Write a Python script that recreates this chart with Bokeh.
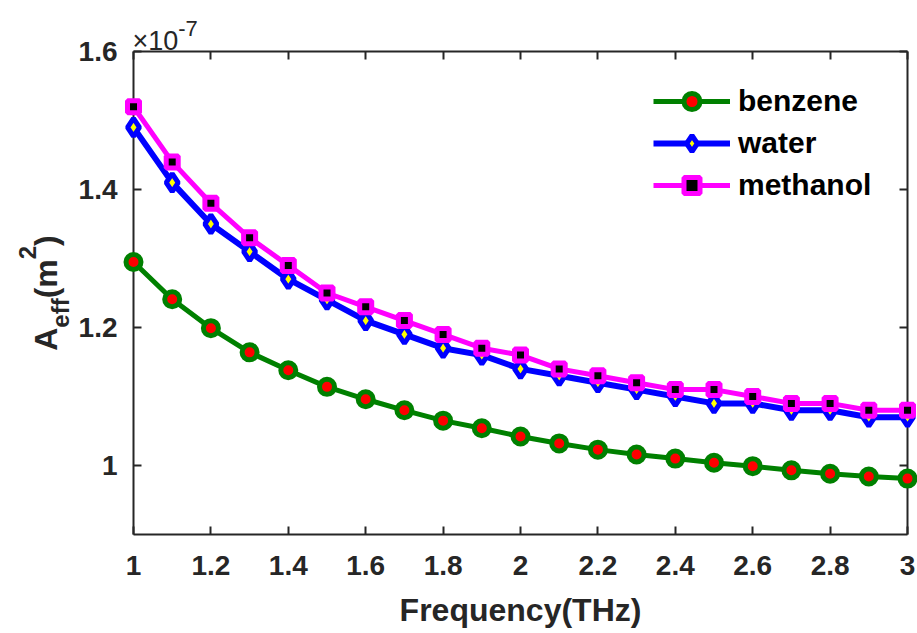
import math
from bokeh.plotting import figure
from bokeh.models import (Range1d, FixedTicker, LinearAxis, Legend, LegendItem, Label,
                          CustomJSTickFormatter)
from bokeh.embed import file_html
from bokeh.resources import INLINE

# ---------------- data (A_eff in units of 1e-7 m^2) ----------------
FREQ = [1.0, 1.1, 1.2, 1.3, 1.4, 1.5, 1.6, 1.7, 1.8, 1.9, 2.0,
        2.1, 2.2, 2.3, 2.4, 2.5, 2.6, 2.7, 2.8, 2.9, 3.0]
BENZENE = [1.295, 1.241, 1.199, 1.164, 1.138, 1.114, 1.096, 1.080, 1.065, 1.054, 1.042,
           1.032, 1.023, 1.016, 1.010, 1.004, 0.999, 0.993, 0.988, 0.984, 0.981]
WATER = [1.49, 1.41, 1.35, 1.31, 1.27, 1.24, 1.21, 1.19, 1.17, 1.16, 1.14,
         1.13, 1.12, 1.11, 1.10, 1.09, 1.09, 1.08, 1.08, 1.07, 1.07]
METHANOL = [1.52, 1.44, 1.38, 1.33, 1.29, 1.25, 1.23, 1.21, 1.19, 1.17, 1.16,
            1.14, 1.13, 1.12, 1.11, 1.11, 1.10, 1.09, 1.09, 1.08, 1.08]
SERIES_NAMES = ["benzene", "water", "methanol"]

X_MIN, X_MAX = 1.0, 3.0
Y_MIN, Y_MAX = 0.9, 1.6
X_TICKS = [1.0, 1.2, 1.4, 1.6, 1.8, 2.0, 2.2, 2.4, 2.6, 2.8, 3.0]
X_TICK_LABELS = ["1", "1.2", "1.4", "1.6", "1.8", "2", "2.2", "2.4", "2.6", "2.8", "3"]
Y_TICKS = [1.0, 1.2, 1.4, 1.6]
Y_TICK_LABELS = ["1", "1.2", "1.4", "1.6"]
X_LABEL = "Frequency(THz)"
Y_LABEL_PARTS = [("A", "main"), ("eff", "sub"), ("(m", "main"), ("2", "sup"), (")", "main")]
SCALE_PARTS = [("\u00d710", "main"), ("-7", "sup")]

# ---------------- layout / style ----------------
W, H = 917, 633
FL, FT, FR, FB = 133, 51, 10, 99          # axes box position on the page (pixels)
AX = "#262626"
FONT = "Liberation Sans"
ADV = {"A": .722, "e": .556, "f": .333, "(": .333, "m": .889, "2": .556, ")": .333,
       "\u00d7": .584, "1": .556, "0": .556, "-": .333, "7": .556}


def text_len(s, size):
    return sum(ADV[c] for c in s) * size


# The frame spans the whole canvas; the axes box is drawn with fixed-location axes.
kx = (X_MAX - X_MIN) / (W - FL - FR)
ky = (Y_MAX - Y_MIN) / (H - FT - FB)
x_range = Range1d(X_MIN - FL * kx, X_MAX + FR * kx)
y_range = Range1d(Y_MIN - FB * ky, Y_MAX + FT * ky)

p = figure(width=W, height=H, x_range=x_range, y_range=y_range,
           output_backend="svg", toolbar_location=None, min_border=0,
           x_axis_location=None, y_axis_location=None,
           background_fill_color="white", border_fill_color="white")
p.grid.visible = False
p.outline_line_color = None


def make_axis(ticks, labels, loc, bounds, show_labels=True):
    ax = LinearAxis(fixed_location=loc, bounds=bounds)
    ax.ticker = FixedTicker(ticks=ticks)
    ax.major_tick_in = 8
    ax.major_tick_out = 0
    ax.minor_tick_in = 0
    ax.minor_tick_out = 0
    ax.axis_line_color = AX
    ax.axis_line_width = 2
    ax.major_tick_line_color = AX
    ax.major_tick_line_width = 2
    if show_labels:
        ax.major_label_overrides = {t: l for t, l in zip(ticks, labels)}
        ax.major_label_text_font = FONT
        ax.major_label_text_font_style = "bold"
        ax.major_label_text_font_size = "28px"
        ax.major_label_text_color = AX
    else:
        ax.formatter = CustomJSTickFormatter(code="return ''")
        ax.major_label_standoff = 0
        ax.major_label_text_font_size = "1px"
    return ax


xb = make_axis(X_TICKS, X_TICK_LABELS, Y_MIN, (X_MIN, X_MAX))
xb.major_label_standoff = 21
xb.axis_label = X_LABEL
xb.axis_label_text_font = FONT
xb.axis_label_text_font_style = "bold"
xb.axis_label_text_font_size = "32px"
xb.axis_label_text_color = AX
xb.axis_label_standoff = 14
p.add_layout(xb, "below")

yl = make_axis(Y_TICKS, Y_TICK_LABELS, X_MIN, (Y_MIN, Y_MAX))
yl.major_label_standoff = 16
p.add_layout(yl, "left")

p.add_layout(make_axis(X_TICKS, X_TICK_LABELS, Y_MAX, (X_MIN, X_MAX), False), "above")
p.add_layout(make_axis(Y_TICKS, Y_TICK_LABELS, X_MAX, (Y_MIN, Y_MAX), False), "right")

# ---------------- series ----------------
GREEN, BLUE, MAGENTA = "#008000", "#0000ff", "#ff00ff"
lb = p.line(FREQ, BENZENE, line_color=GREEN, line_width=5, level="overlay")
sb = p.scatter(FREQ, BENZENE, marker="circle", size=15, fill_color="#ff0000",
               line_color=GREEN, line_width=5, level="overlay")
lw = p.line(FREQ, WATER, line_color=BLUE, line_width=6, level="overlay")
sw = p.scatter(FREQ, WATER, marker="diamond", size=18, fill_color="#ffff00",
               line_color=BLUE, line_width=5, level="overlay")
lm = p.line(FREQ, METHANOL, line_color=MAGENTA, line_width=5, level="overlay")
sm = p.scatter(FREQ, METHANOL, marker="square", size=12, fill_color="#000000",
               line_color=MAGENTA, line_width=5, level="overlay")

items = [LegendItem(label=SERIES_NAMES[0], renderers=[lb, sb]),
         LegendItem(label=SERIES_NAMES[1], renderers=[lw, sw]),
         LegendItem(label=SERIES_NAMES[2], renderers=[lm, sm])]
legend = Legend(items=items, location=(653, H - 205), border_line_alpha=0,
                background_fill_alpha=0,
                label_text_font=FONT, label_text_font_style="bold", label_text_font_size="30px",
                label_text_color="black", glyph_width=77, glyph_height=40, label_height=40,
                spacing=2, padding=0, margin=0, label_standoff=8)
p.add_layout(legend)

# ---------------- y-axis label (rotated, with sub/superscript) ----------------
MAIN, SMALL = 32, 24
sizes = {"main": MAIN, "sub": SMALL, "sup": SMALL}
base = {"main": 45, "sub": 60, "sup": 27}
lens = [text_len(t, sizes[k]) for t, k in Y_LABEL_PARTS]
pos = (H - (FT + (H - FT - FB) / 2)) - sum(lens) / 2
for (t, k), ln in zip(Y_LABEL_PARTS, lens):
    p.add_layout(Label(x=base[k], y=pos, x_units="screen", y_units="screen", text=t,
                       angle=math.pi / 2, text_align="left", text_baseline="alphabetic",
                       text_font=FONT, text_font_style="bold",
                       text_font_size=f"{sizes[k]}px", text_color=AX))
    pos += ln

# ---------------- x10^-7 multiplier ----------------
ssz = {"main": 27, "sup": 22}
sbase = {"main": H - 40, "sup": H - 28}
sx = FL - 1
for t, k in SCALE_PARTS:
    p.add_layout(Label(x=sx, y=sbase[k], x_units="screen", y_units="screen", text=t,
                       text_align="left", text_baseline="alphabetic",
                       text_font=FONT, text_font_size=f"{ssz[k]}px", text_color=AX))
    sx += text_len(t, ssz[k])

open("out.html", "w").write(file_html(p, INLINE))
